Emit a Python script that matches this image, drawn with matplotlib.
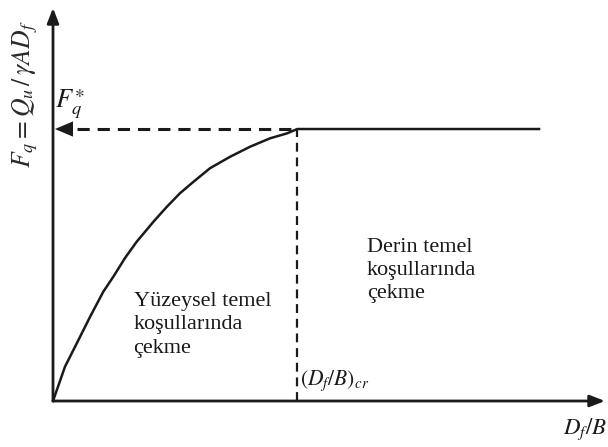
import matplotlib.pyplot as plt

plt.rcParams["mathtext.fontset"] = "stix"
plt.rcParams["font.family"] = ["Liberation Serif", "DejaVu Serif"]

# uplift capacity curve, normalised by (Df/B)cr and Fq*
DFB = [0.0, 0.049, 0.104, 0.152, 0.206, 0.247, 0.295, 0.343, 0.411, 0.466,
       0.520, 0.575, 0.643, 0.725, 0.807, 0.889, 0.958, 1.0, 1.99]
FQ = [0.0, 0.126, 0.224, 0.310, 0.402, 0.457, 0.526, 0.586, 0.659, 0.714,
      0.764, 0.806, 0.856, 0.898, 0.935, 0.966, 0.984, 1.0, 1.0]
DFB_CR = 1.0
FQ_STAR = 1.0

X_MAX = 2.26
Y_MAX = 1.445

INK = "#1a1a1a"

fig = plt.figure(figsize=(6.08, 4.47), dpi=100)
ax = fig.add_axes([53 / 608, 46 / 447, 552 / 608, 393 / 447])
ax.set_xlim(0, X_MAX)
ax.set_ylim(0, Y_MAX)
ax.axis("off")

# axes with arrow heads
arrow = dict(arrowstyle="-|>,head_length=0.9,head_width=0.35", color=INK, lw=2.0,
             shrinkA=0, shrinkB=0)
ax.annotate("", xy=(X_MAX, 0), xytext=(0, 0), arrowprops=arrow, annotation_clip=False)
ax.annotate("", xy=(0, Y_MAX), xytext=(0, 0), arrowprops=arrow, annotation_clip=False)

# curve
ax.plot(DFB, FQ, color=INK, lw=1.8, solid_joinstyle="round", clip_on=False)

# guide lines
ax.plot([0.1, DFB_CR], [FQ_STAR, FQ_STAR], color=INK, lw=2.2,
        dashes=(4, 2.6), clip_on=False)
ax.annotate("", xy=(0.008, FQ_STAR), xytext=(0.1, FQ_STAR),
            arrowprops=dict(arrowstyle="-|>,head_length=1.3,head_width=0.55",
                            color=INK, lw=0, shrinkA=0, shrinkB=0),
            annotation_clip=False)
ax.plot([DFB_CR, DFB_CR], [0, FQ_STAR], color=INK, lw=1.6,
        dashes=(4, 2.6), clip_on=False)

# labels
ax.text(-0.115, 1.13, r"$F_q = Q_u\,/\,\gamma A D_f$", rotation=90,
        ha="center", va="center", fontsize=18.5, color="#2a2a2a", clip_on=False)
ax.text(0.07, 1.09, r"$F_q^{\ast}$", ha="center", va="center",
        fontsize=19, color=INK)
ax.text(DFB_CR + 0.012, 0.075, r"$(D_f/B)_{cr}$", ha="left", va="center",
        fontsize=15.5, color=INK)
ax.text(X_MAX + 0.01, -0.105, r"$D_f/B$", ha="right", va="center",
        fontsize=16.5, color=INK, clip_on=False)

ax.text(0.33, 0.40, "Yüzeysel temel\nkoşullarında\nçekme", ha="left", va="top",
        fontsize=16, color=INK, linespacing=1.3)
ax.text(1.285, 0.60, "Derin temel\nkoşullarında\nçekme", ha="left", va="top",
        fontsize=16, color=INK, linespacing=1.3)

fig.savefig("out.png", dpi=100)
